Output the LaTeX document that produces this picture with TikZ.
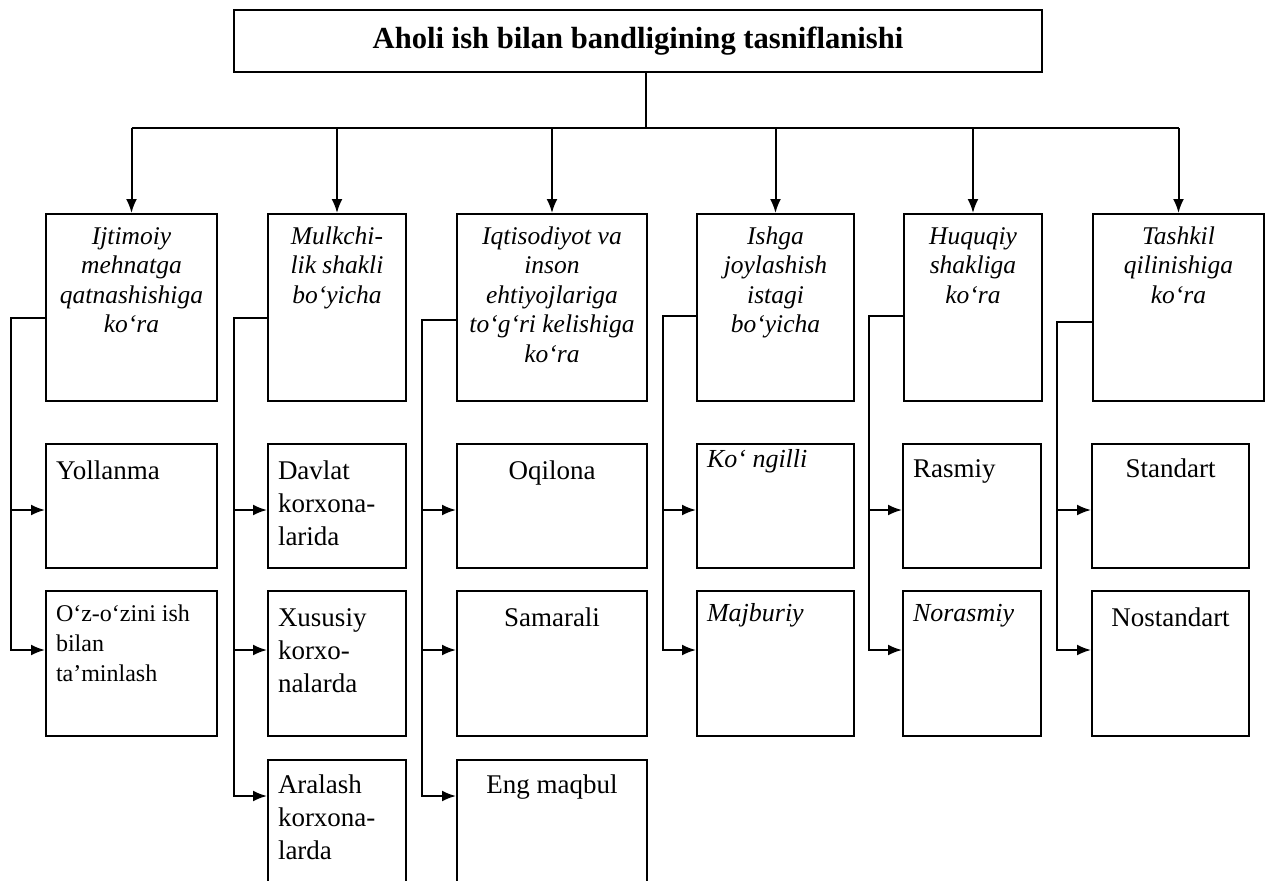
\documentclass[tikz,border=0pt]{standalone}
\usepackage{fontspec}
\setmainfont{Liberation Serif}
\usetikzlibrary{arrows.meta,positioning}
\tikzset{
  line/.style={draw, line width=1pt, -{Latex[length=7pt,width=5.5pt]}},
  rail/.style={draw, line width=1pt},
  headbox/.style={
    draw, line width=1pt,
    font=\bfseries\fontsize{15.3}{18}\selectfont,
    minimum width=404pt,
    minimum height=31pt,
    inner sep=0pt},
  critbox/.style={
    draw, line width=1pt,
    anchor=north west,
    align=flush center,
    inner sep=0pt,
    text width=#1,
    font=\itshape\fontsize{12.75}{14.75}\selectfont,
    text height=15pt,
    text depth=78.5pt},
  itembox/.style={
    draw, line width=1pt,
    anchor=north west,
    align=flush left,
    inner xsep=5pt, inner ysep=0pt,
    text width=#1,
    font=\fontsize{13.5}{16.5}\selectfont},
  rowa/.style={text height=17.5pt, text depth=44.5pt},
  rowb/.style={text height=17.5pt, text depth=55pt},
  rowc/.style={text height=16.5pt, text depth=56pt},
  slant/.style={font=\itshape\fontsize{13}{16}\selectfont},
}

\begin{document}
\begin{tikzpicture}[x=0.5pt, y=-0.5pt]
  \useasboundingbox (0,0) rectangle (1266,880);
  \clip (0,0) rectangle (1266,880);

  % title and the six criteria
  \node[headbox] (title) at (638,41) {Aholi ish bilan bandligining tasniflanishi};
  \node[critbox=85.5pt] (ijtimoiy) at (45,213) {Ijtimoiy\\mehnatga\\qatnashishiga\\ko‘ra};
  \node[critbox=69pt] (mulk) at (267,213) {Mulkchi-\\lik shakli\\bo‘yicha};
  \node[critbox=95pt] (iqtisod) at (456,213) {Iqtisodiyot va\\inson\\ehtiyojlariga\\to‘g‘ri kelishiga\\ko‘ra};
  \node[critbox=78.5pt] (ishga) at (696,213) {Ishga\\joylashish\\istagi\\bo‘yicha};
  \node[critbox=69pt] (huquq) at (903,213) {Huquqiy\\shakliga\\ko‘ra};
  \node[critbox=85.5pt] (tashkil) at (1092,213) {Tashkil\\qilinishiga\\ko‘ra};

  % kinds
  \node[itembox=75.5pt, rowa] (yollanma) at (45,443) {Yollanma};
  \node[itembox=75.5pt, font=\fontsize{12}{15}\selectfont, text height=15pt, text depth=57.5pt,
        below=10.5pt of yollanma] (ozini) {O‘z-o‘zini ish\\bilan\\ta’minlash};

  \node[itembox=59pt, rowa] (davlat) at (267,443) {Davlat\\korxona-\\larida};
  \node[itembox=59pt, rowb, below=10.5pt of davlat] (xususiy) {Xususiy\\korxo-\\nalarda};
  \node[itembox=59pt, rowc, below=11pt of xususiy] (aralash) {Aralash\\korxona-\\larda};

  \node[itembox=85pt, rowa, align=flush center] (oqilona) at (456,443) {Oqilona};
  \node[itembox=85pt, rowb, align=flush center, below=10.5pt of oqilona] (samarali) {Samarali};
  \node[itembox=85pt, rowc, align=flush center, below=11pt of samarali] (maqbul) {Eng maqbul};

  \node[itembox=68.5pt, slant, text height=11.5pt, text depth=50.5pt] (kongilli) at (696,443) {Ko‘ ngilli};
  \node[itembox=68.5pt, rowb, slant, text height=15pt, text depth=57.5pt,
        below=10.5pt of kongilli] (majburiy) {Majburiy};

  \node[itembox=59pt, rowa, text height=16.5pt, text depth=45.5pt] (rasmiy) at (902,443) {Rasmiy};
  \node[itembox=59pt, slant, text height=15pt, text depth=57.5pt,
        below=10.5pt of rasmiy] (norasmiy) {Norasmiy};

  \node[itembox=68.5pt, rowa, align=flush center, text height=16.5pt, text depth=45.5pt] (standart) at (1091,443) {Standart};
  \node[itembox=68.5pt, rowb, align=flush center, below=10.5pt of standart] (nostandart) {Nostandart};

  % junctions
  \coordinate (hub) at (646,128);
  \coordinate (r1) at (11,318);
  \coordinate (r2) at (234,318);
  \coordinate (r3) at (422,320);
  \coordinate (r4) at (663,316);
  \coordinate (r5) at (869,316);
  \coordinate (r6) at (1057,322);
  \coordinate (ya) at (0,510);
  \coordinate (yb) at (0,650);
  \coordinate (yc) at (0,796);

  % from the title down to the criteria
  \draw[rail] (title.south -| hub) -- (hub);
  \draw[rail] (ijtimoiy.north |- hub) -- (tashkil.north |- hub);
  \draw[line] (ijtimoiy.north |- hub) -- (ijtimoiy.north);
  \draw[line] (mulk.north |- hub) -- (mulk.north);
  \draw[line] (iqtisod.north |- hub) -- (iqtisod.north);
  \draw[line] (ishga.north |- hub) -- (ishga.north);
  \draw[line] (huquq.north |- hub) -- (huquq.north);
  \draw[line] (tashkil.north |- hub) -- (tashkil.north);

  % from each criterion to its kinds
  \draw[line] (ijtimoiy.west |- r1) -| (r1 |- yb) -- (ozini.west |- yb);
  \draw[line] (r1 |- ya) -- (yollanma.west |- ya);

  \draw[line] (mulk.west |- r2) -| (r2 |- yc) -- (aralash.west |- yc);
  \draw[line] (r2 |- ya) -- (davlat.west |- ya);
  \draw[line] (r2 |- yb) -- (xususiy.west |- yb);

  \draw[line] (iqtisod.west |- r3) -| (r3 |- yc) -- (maqbul.west |- yc);
  \draw[line] (r3 |- ya) -- (oqilona.west |- ya);
  \draw[line] (r3 |- yb) -- (samarali.west |- yb);

  \draw[line] (ishga.west |- r4) -| (r4 |- yb) -- (majburiy.west |- yb);
  \draw[line] (r4 |- ya) -- (kongilli.west |- ya);

  \draw[line] (huquq.west |- r5) -| (r5 |- yb) -- (norasmiy.west |- yb);
  \draw[line] (r5 |- ya) -- (rasmiy.west |- ya);

  \draw[line] (tashkil.west |- r6) -| (r6 |- yb) -- (nostandart.west |- yb);
  \draw[line] (r6 |- ya) -- (standart.west |- ya);
\end{tikzpicture}
\end{document}
